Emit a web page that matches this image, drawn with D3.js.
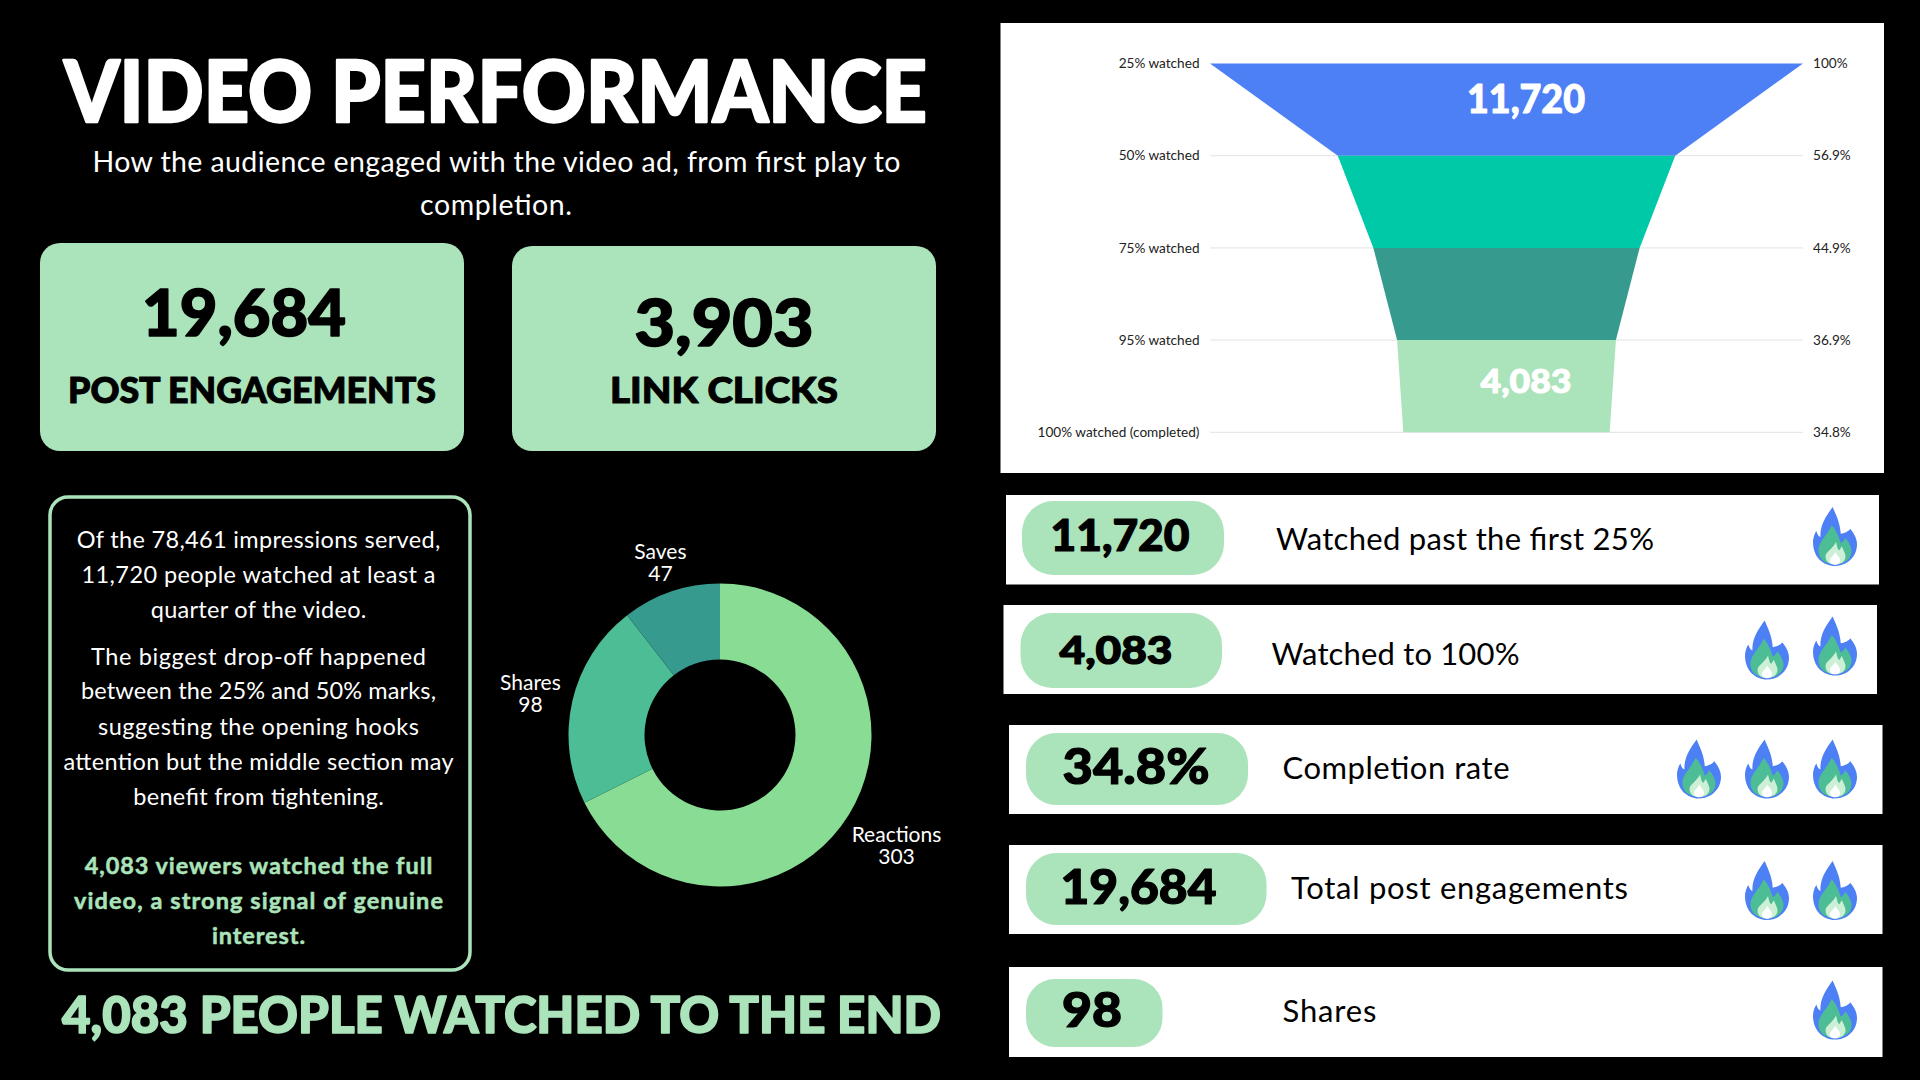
<!DOCTYPE html>
<html><head><meta charset="utf-8">
<script src="https://cdnjs.cloudflare.com/ajax/libs/d3/7.8.5/d3.min.js"></script>
<style>html,body{margin:0;padding:0;background:#000;overflow:hidden}svg{display:block}text{font-family:Lato,sans-serif}</style>
</head><body><svg id="c" width="1920" height="1080"></svg>
<script>
// ---- data ----
const funnelStages = ["25% watched","50% watched","75% watched","95% watched","100% watched (completed)"];
const funnelPct = [100,56.9,44.9,36.9,34.8];
const funnelPctLabels = ["100%","56.9%","44.9%","36.9%","34.8%"];
const funnelBandLabels = ["11,720","","","4,083"];
const donutLabels = ["Reactions","Shares","Saves"];
const donutValues = [303,98,47];
const metricValues = ["11,720","4,083","34.8%","19,684","98"];
const metricLabels = ["Watched past the first 25%","Watched to 100%","Completion rate","Total post engagements","Shares"];
const metricFlames = [1,2,3,2,1];
const kpiValues = ["19,684","3,903"];
const kpiLabels = ["POST ENGAGEMENTS","LINK CLICKS"];
const storyLines = ["Of the 78,461 impressions served,","11,720 people watched at least a","quarter of the video.","The biggest drop-off happened","between the 25% and 50% marks,","suggesting the opening hooks","attention but the middle section may","benefit from tightening.","4,083 viewers watched the full","video, a strong signal of genuine","interest."];

// ---- styles & layout ----
const MINT="#ABE3BA", BLUE="#4D7FF5";
const funnelColors=[BLUE,"#00C9A7","#379A8F",MINT];
const donutColors=["#88DC93","#4CBD94","#379A8F"];
const svg=d3.select("#c");
svg.append("rect").attr("width",1920).attr("height",1080).attr("fill","#000");

function txt(p,s,x,y,o={}){
  const fill=o.fill||"#fff";
  const t=p.append("text").attr("x",x).attr("y",y).text(s)
    .attr("text-anchor",o.a||"middle").attr("font-size",o.size||20)
    .attr("font-weight",o.w||400).attr("fill",fill);
  if(o.sw) t.attr("stroke",fill).attr("stroke-width",o.sw).attr("stroke-linejoin","round");
  if(o.width) t.attr("textLength",o.width).attr("lengthAdjust",o.adj||"spacingAndGlyphs");
  return t;
}
// heading
txt(svg,"VIDEO PERFORMANCE",495.5,121.7,{size:85,w:900,width:863,sw:2.4});
txt(svg,"How the audience engaged with the video ad, from first play to",496.5,172,{size:28.5,width:808,adj:"spacing"});
txt(svg,"completion.",496,215,{size:28.5,width:152,adj:"spacing"});

// KPI cards
const kpiBoxes=[{x:40,y:243,w:424,h:208,cx:244,lcx:252,vy:335.7,ly:403,vw:204,lw:368},
                {x:512,y:246,w:424,h:205,cx:724,lcx:724,vy:346,ly:403,vw:179,lw:228}];
kpiBoxes.forEach((b,i)=>{
  svg.append("rect").attr("x",b.x).attr("y",b.y).attr("width",b.w).attr("height",b.h).attr("rx",20).attr("fill",MINT);
  txt(svg,kpiValues[i],b.cx,b.vy,{size:65,w:900,fill:"#000",width:b.vw,sw:1.6});
  txt(svg,kpiLabels[i],b.lcx,b.ly,{size:36,w:900,fill:"#000",width:b.lw,sw:1});
});

// story box
svg.append("rect").attr("x",50).attr("y",497).attr("width",420).attr("height",473).attr("rx",18).attr("fill","#000").attr("stroke",MINT).attr("stroke-width",3.5);
const storyY=[548,583,618,664.5,699,734.5,769.7,804.5,874,909,944];
const storyW=[363.5,354,215.6,335,355,321,390,250.6,347.6,369,93];
storyLines.forEach((s,i)=>{
  const hl=i>=8;
  txt(svg,s,258.5,storyY[i],{size:23.5,w:hl?700:400,fill:hl?MINT:"#fff",width:storyW[i],adj:"spacing",sw:hl?.5:0});
});

// donut
const dg=svg.append("g").attr("transform","translate(720,735)");
const pie=d3.pie().sort(null)(donutValues);
const arc=d3.arc().innerRadius(75.5).outerRadius(151.5);
dg.selectAll("path").data(pie).join("path").attr("d",arc).attr("fill",(d,i)=>donutColors[i]);
pie.forEach((d,i)=>{
  const m=(d.startAngle+d.endAngle)/2;
  const g=dg.append("g");
  const a=txt(g,donutLabels[i],0,-2,{size:21});
  const b=txt(g,donutValues[i],0,20,{size:21});
  const w=Math.max(a.node().getBBox().width,b.node().getBBox().width);
  const r=151.5+10+Math.abs(Math.sin(m))*w/2+Math.abs(Math.cos(m))*15;
  g.attr("transform",`translate(${Math.sin(m)*r},${-Math.cos(m)*r})`);
});

// bottom headline
txt(svg,"4,083 PEOPLE WATCHED TO THE END",501.5,1032.7,{size:51,w:900,fill:MINT,width:879,sw:1.6});

// funnel chart
svg.append("rect").attr("x",1000.5).attr("y",23).attr("width",883.5).attr("height",450).attr("fill","#fff");
const fy=d3.scalePoint().domain(funnelStages).range([63.5,432.3]);
const fw=d3.scaleLinear().domain([0,100]).range([0,593]);
const fcx=1506.5;
const fl=fcx-fw(100)/2, fr=fcx+fw(100)/2;
svg.append("g").selectAll("line").data(funnelStages.slice(1)).join("line")
  .attr("x1",fl).attr("x2",fr).attr("y1",d=>fy(d)).attr("y2",d=>fy(d)).attr("stroke","#E8E8E8").attr("stroke-width",1.2);
const band=d3.area().x0(d=>fcx-fw(d.p)/2).x1(d=>fcx+fw(d.p)/2).y(d=>fy(d.s));
const bandLabelDy=[3.5,0,0,6.5], bandLabelSize=[39,0,0,32], bandLabelW=[118,0,0,91];
funnelColors.forEach((c,i)=>{
  svg.append("path").datum([{s:funnelStages[i],p:funnelPct[i]},{s:funnelStages[i+1],p:funnelPct[i+1]}])
    .attr("d",band).attr("fill",c);
  if(funnelBandLabels[i]) txt(svg,funnelBandLabels[i],1526,(fy(funnelStages[i])+fy(funnelStages[i+1]))/2+bandLabelDy[i],{size:bandLabelSize[i],w:900,width:bandLabelW[i],sw:1});
});
funnelStages.forEach((s,i)=>{
  txt(svg,s,1199.5,fy(s)+2,{a:"end",size:13.6,fill:"#222"}).attr("dy","0.2em");
  txt(svg,funnelPctLabels[i],1813,fy(s)+2,{a:"start",size:13.6,fill:"#222"}).attr("dy","0.2em");
});

// metric rows
const rows=[
 {x0:1006,x1:1879,y0:495,y1:584.5,px:1022,pr:1224,py0:501,py1:575,vx:1120,vy:550.8,vs:43,lx:1276,ly:550,vw:139,lw:378,fy:507},
 {x0:1003.5,x1:1877,y0:605,y1:694,px:1020.5,pr:1222,py0:613,py1:688,vx:1116,vy:663.7,vs:38,lx:1271.5,ly:664.5,vw:113,lw:248,fy:[620.5,616.6]},
 {x0:1009,x1:1882.5,y0:725,y1:814,px:1026,pr:1248,py0:733,py1:805,vx:1136,vy:784,vs:50,lx:1282.5,ly:778.5,vw:147,lw:227,fy:739.5},
 {x0:1009,x1:1882.5,y0:845,y1:934,px:1026,pr:1266.5,py0:853,py1:925,vx:1138.5,vy:904,vs:47,lx:1291,ly:899,vw:156,lw:337,fy:861},
 {x0:1009,x1:1882.5,y0:967,y1:1057,px:1026,pr:1162.5,py0:979,py1:1047,vx:1092,vy:1026.5,vs:47,lx:1282.5,ly:1021.5,vw:60,lw:94,fy:980.6}];
const flameX=[1835,1767,1699];
const defs=svg.append("defs");
const fl0=defs.append("g").attr("id","flame");
fl0.append("path").attr("fill",BLUE).attr("d","M58,0 C66,20 80,45 82,80 C92,78 104,75 110,65 C122,80 130,95 130,112 C130,150 100,177 65,177 C30,177 0,150 0,105 C0,95 4,80 10,72 C12,80 16,88 22,90 C20,55 38,28 58,0Z");
fl0.append("path").attr("fill","#4CBD94").attr("d","M55,55 C70,70 78,95 82,108 C88,105 92,100 96,92 C107,108 114,120 114,132 C114,157 92,172 65,172 C38,172 16,157 16,130 C16,105 40,88 55,55Z");
fl0.append("path").attr("fill","#CDEFD6").attr("d","M68,105 C72,120 72,126 78,130 C80,126 83,122 85,118 C92,133 96,142 96,148 C96,164 82,173 65,173 C48,173 37,164 37,148 C37,135 58,126 68,105Z");
fl0.append("path").attr("fill","#fff").attr("d","M66,134 C70,146 80,150 80,160 C80,169 73,173 65,173 C57,173 50,169 50,160 C50,151 62,146 66,134Z");
rows.forEach((r,i)=>{
  svg.append("rect").attr("x",r.x0).attr("y",r.y0).attr("width",r.x1-r.x0).attr("height",r.y1-r.y0).attr("fill","#fff");
  const ph=r.py1-r.py0;
  svg.append("rect").attr("x",r.px).attr("y",r.py0).attr("width",r.pr-r.px).attr("height",ph).attr("rx",ph/2*.85).attr("fill",MINT);
  txt(svg,metricValues[i],r.vx,r.vy,{size:r.vs,w:900,fill:"#000",width:r.vw,sw:1.2});
  txt(svg,metricLabels[i],r.lx,r.ly,{a:"start",size:31,fill:"#000",width:r.lw,adj:"spacing"});
  for(let k=0;k<metricFlames[i];k++){
    const y=Array.isArray(r.fy)?r.fy[metricFlames[i]-1-k]:r.fy;
    svg.append("use").attr("href","#flame").attr("transform",`translate(${flameX[k]-22},${y}) scale(${44/130},${59/177})`);
  }
});
</script></body></html>
